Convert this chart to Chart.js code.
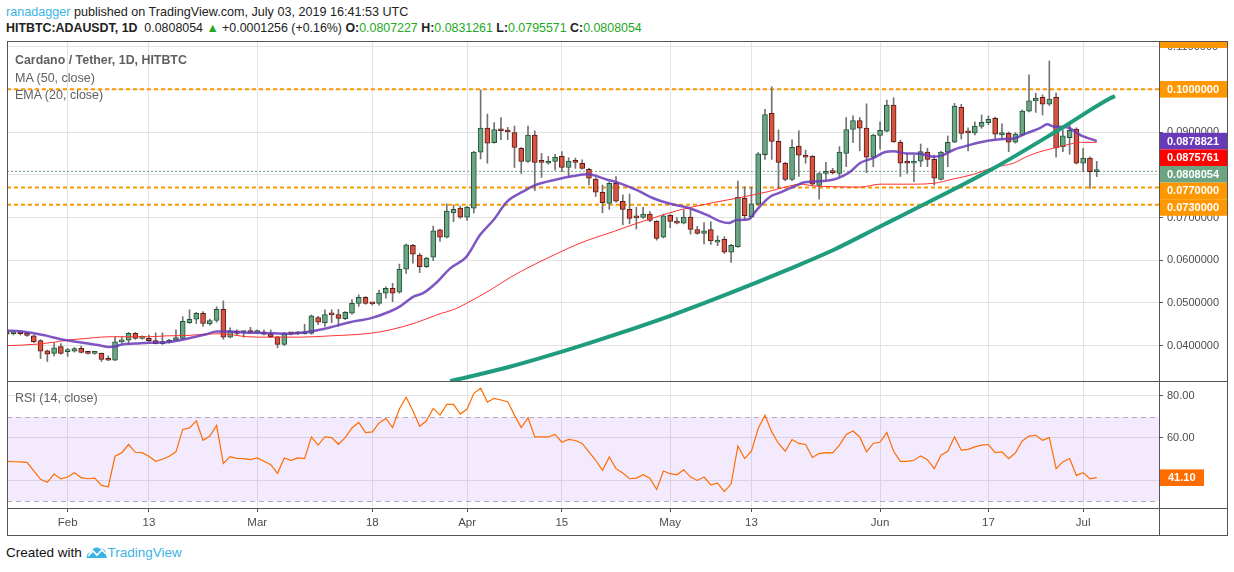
<!DOCTYPE html>
<html>
<head>
<meta charset="utf-8">
<script src="https://cdn.jsdelivr.net/npm/chart.js@4.4.1/dist/chart.umd.min.js"></script>
<style>
  body { margin:0; width:1234px; height:572px; background:#fff; position:relative; overflow:hidden;
         font-family:"Liberation Sans", Arial, sans-serif; }
  canvas { position:absolute; left:0; }
  #precio { top:42px; }
  #rsi { top:381px; }
  .linea { position:absolute; background:#555; z-index:1; }
  .txt { position:absolute; white-space:nowrap; z-index:2; }
  #l1 { left:6px; top:5px; font-size:12.6px; color:#222; }
  #l2 { left:6px; top:21px; font-size:12.4px; color:#222; }
  .azul { color:#3bb3e4; }
  .verde { color:#22a822; }
  .leyenda { left:15px; font-size:12.5px; color:#606060; }
  #pie { left:6px; top:545px; font-size:13.5px; color:#111; }
</style>
</head>
<body>

<div class="txt" id="l1"><span class="azul">ranadagger</span> published on TradingView.com, July 03, 2019 16:41:53 UTC</div>
<div class="txt" id="l2"><b>HITBTC:ADAUSDT, 1D</b>&nbsp; 0.0808054 <span class="verde">&#9650;</span> +0.0001256 (+0.16%) <b>O:</b><span class="verde">0.0807227</span> <b>H:</b><span class="verde">0.0831261</span> <b>L:</b><span class="verde">0.0795571</span> <b>C:</b><span class="verde">0.0808054</span></div>

<canvas id="precio" width="1228" height="339"></canvas>
<canvas id="rsi" width="1228" height="154"></canvas>

<!-- MARCO -->
<div class="linea" style="left:7px;top:41px;width:1221px;height:1px"></div>
<div class="linea" style="left:7px;top:381px;width:1221px;height:1px"></div>
<div class="linea" style="left:7px;top:508px;width:1221px;height:1px"></div>
<div class="linea" style="left:7px;top:535px;width:1221px;height:1px"></div>
<div class="linea" style="left:7px;top:41px;width:1px;height:495px"></div>
<div class="linea" style="left:1159px;top:41px;width:1px;height:495px"></div>
<div class="linea" style="left:1227px;top:41px;width:1px;height:495px"></div>

<div class="txt leyenda" style="top:53px;font-weight:bold;font-size:12.4px">Cardano / Tether, 1D, HITBTC</div>
<div class="txt leyenda" style="top:71px">MA (50, close)</div>
<div class="txt leyenda" style="top:88px">EMA (20, close)</div>
<div class="txt leyenda" style="top:391px">RSI (14, close)</div>

<div class="txt" id="pie">Created with
  <svg width="22" height="14" viewBox="0 0 22 14" style="vertical-align:-2px"><path d="M1 13 C0 9 3 7 5 8 C6 3 11 1 14 4 C17 3 21 6 20 10 L21 13 Z" fill="#3bb3e4"/><path d="M2 11 L7 6 L11 10 L16 5 L20 9" stroke="#fff" stroke-width="1.6" fill="none"/></svg><span class="azul">TradingView</span></div>

<script>
// DATOS (eje x = indice de dia, 0 = 23 ene 2019, 161 = 3 jul 2019)
const fechasIdx = [9, 21, 37, 54, 68, 82, 98, 110, 129, 145, 159]
const fechasTxt = ['Feb', '13', 'Mar', '18', 'Apr', '15', 'May', '13', 'Jun', '17', 'Jul']

const aperturas = [
0.0433,0.0428,0.0430,0.0427,0.0423,0.0412,0.0388,0.0382,0.0398,0.0386,
0.0387,0.0394,0.0383,0.0382,0.0382,0.0368,0.0366,0.0409,0.0413,0.0429,
0.0417,0.0417,0.0412,0.0405,0.0408,0.0413,0.0417,0.0454,0.0462,0.0476,
0.0451,0.0459,0.0485,0.0420,0.0434,0.0431,0.0432,0.0431,0.0431,0.0427,
0.0421,0.0403,0.0429,0.0428,0.0428,0.0429,0.0466,0.0454,0.0473,0.0473,
0.0463,0.0476,0.0499,0.0513,0.0499,0.0499,0.0523,0.0534,0.0525,0.0579,
0.0635,0.0612,0.0585,0.0607,0.0671,0.0654,0.0711,0.0722,0.0701,0.0722,
0.0853,0.0909,0.0875,0.0904,0.0902,0.0899,0.0862,0.0831,0.0893,0.0830,
0.0827,0.0831,0.0843,0.0817,0.0830,0.0827,0.0813,0.0790,0.0759,0.0733,
0.0780,0.0738,0.0719,0.0700,0.0700,0.0708,0.0691,0.0654,0.0705,0.0688,
0.0687,0.0701,0.0672,0.0663,0.0672,0.0642,0.0649,0.0619,0.0632,0.0745,
0.0702,0.0731,0.0847,0.0944,0.0878,0.0827,0.0789,0.0867,0.0846,0.0843,
0.0775,0.0803,0.0806,0.0803,0.0850,0.0906,0.0927,0.0909,0.0841,0.0892,
0.0902,0.0963,0.0876,0.0828,0.0827,0.0832,0.0853,0.0836,0.0789,0.0853,
0.0876,0.0958,0.0899,0.0898,0.0913,0.0922,0.0932,0.0893,0.0897,0.0876,
0.0893,0.0949,0.0973,0.0981,0.0965,0.0981,0.0865,0.0887,0.0907,0.0827,
0.0839,0.0807227]

const maximos = [
0.0435,0.0433,0.0432,0.0429,0.0425,0.0414,0.0390,0.0407,0.0405,0.0394,
0.0396,0.0399,0.0387,0.0387,0.0383,0.0376,0.0421,0.0420,0.0431,0.0431,
0.0423,0.0425,0.0430,0.0430,0.0415,0.0437,0.0468,0.0484,0.0478,0.0480,
0.0462,0.0491,0.0505,0.0442,0.0437,0.0434,0.0443,0.0437,0.0437,0.0437,
0.0422,0.0431,0.0431,0.0433,0.0450,0.0472,0.0469,0.0484,0.0484,0.0485,
0.0480,0.0508,0.0519,0.0515,0.0501,0.0530,0.0538,0.0546,0.0591,0.0638,
0.0637,0.0616,0.0607,0.0680,0.0673,0.0732,0.0730,0.0727,0.0727,0.0855,
0.0998,0.0942,0.0922,0.0934,0.0911,0.0914,0.0864,0.0914,0.0903,0.0850,
0.0843,0.0848,0.0854,0.0840,0.0839,0.0835,0.0815,0.0793,0.0776,0.0783,
0.0796,0.0753,0.0755,0.0724,0.0724,0.0714,0.0693,0.0708,0.0707,0.0700,
0.0718,0.0718,0.0679,0.0688,0.0690,0.0657,0.0655,0.0637,0.0785,0.0772,
0.0771,0.0852,0.0953,0.1006,0.0905,0.0829,0.0882,0.0903,0.0858,0.0845,
0.0805,0.0829,0.0815,0.0866,0.0934,0.0938,0.0934,0.0966,0.0895,0.0924,
0.0975,0.0980,0.0881,0.0850,0.0846,0.0872,0.0862,0.0846,0.0855,0.0891,
0.0967,0.0965,0.0910,0.0924,0.0940,0.0938,0.0935,0.0919,0.0900,0.0899,
0.0952,0.1034,0.0991,0.0987,0.1066,0.0991,0.0905,0.0917,0.0910,0.0862,
0.0842,0.0831261]

const minimos = [
0.0425,0.0425,0.0425,0.0422,0.0407,0.0370,0.0363,0.0376,0.0380,0.0375,
0.0385,0.0383,0.0380,0.0380,0.0363,0.0365,0.0365,0.0406,0.0405,0.0415,
0.0415,0.0410,0.0404,0.0403,0.0406,0.0411,0.0415,0.0452,0.0452,0.0445,
0.0448,0.0455,0.0415,0.0418,0.0426,0.0420,0.0429,0.0429,0.0425,0.0419,
0.0395,0.0400,0.0425,0.0426,0.0427,0.0427,0.0449,0.0445,0.0454,0.0445,
0.0461,0.0474,0.0492,0.0497,0.0495,0.0495,0.0511,0.0503,0.0523,0.0569,
0.0593,0.0571,0.0583,0.0599,0.0644,0.0652,0.0690,0.0698,0.0693,0.0711,
0.0837,0.0827,0.0874,0.0882,0.0882,0.0817,0.0803,0.0829,0.0763,0.0794,
0.0825,0.0811,0.0807,0.0796,0.0815,0.0813,0.0776,0.0749,0.0711,0.0719,
0.0736,0.0683,0.0685,0.0673,0.0698,0.0690,0.0647,0.0652,0.0676,0.0685,
0.0685,0.0661,0.0661,0.0638,0.0637,0.0634,0.0616,0.0595,0.0630,0.0694,
0.0700,0.0729,0.0836,0.0836,0.0768,0.0786,0.0786,0.0796,0.0827,0.0776,
0.0743,0.0788,0.0802,0.0796,0.0819,0.0875,0.0856,0.0805,0.0819,0.0860,
0.0900,0.0876,0.0796,0.0803,0.0784,0.0819,0.0819,0.0776,0.0788,0.0819,
0.0875,0.0884,0.0856,0.0893,0.0909,0.0917,0.0885,0.0887,0.0854,0.0874,
0.0892,0.0947,0.0946,0.0940,0.0962,0.0841,0.0854,0.0848,0.0825,0.0807,
0.0768,0.0795571]

const cierres = [
0.0427,0.0430,0.0428,0.0424,0.0409,0.0387,0.0380,0.0395,0.0382,0.0387,
0.0393,0.0384,0.0382,0.0383,0.0368,0.0366,0.0409,0.0413,0.0429,0.0417,
0.0418,0.0412,0.0405,0.0409,0.0413,0.0419,0.0457,0.0462,0.0476,0.0452,
0.0459,0.0485,0.0420,0.0434,0.0429,0.0432,0.0431,0.0432,0.0427,0.0421,
0.0403,0.0429,0.0428,0.0431,0.0429,0.0470,0.0455,0.0473,0.0472,0.0464,
0.0478,0.0499,0.0513,0.0499,0.0498,0.0523,0.0534,0.0523,0.0579,0.0636,
0.0614,0.0585,0.0605,0.0669,0.0654,0.0715,0.0719,0.0701,0.0724,0.0853,
0.0909,0.0874,0.0906,0.0903,0.0900,0.0864,0.0831,0.0893,0.0829,0.0829,
0.0830,0.0841,0.0817,0.0832,0.0829,0.0815,0.0792,0.0759,0.0735,0.0780,
0.0738,0.0719,0.0698,0.0699,0.0708,0.0693,0.0651,0.0704,0.0691,0.0687,
0.0701,0.0672,0.0663,0.0669,0.0645,0.0647,0.0619,0.0635,0.0747,0.0704,
0.0732,0.0849,0.0941,0.0878,0.0829,0.0789,0.0864,0.0846,0.0841,0.0778,
0.0803,0.0808,0.0805,0.0853,0.0906,0.0927,0.0909,0.0841,0.0893,0.0904,
0.0963,0.0877,0.0827,0.0827,0.0832,0.0854,0.0836,0.0792,0.0853,0.0876,
0.0961,0.0897,0.0898,0.0914,0.0923,0.0930,0.0895,0.0899,0.0876,0.0895,
0.0949,0.0973,0.0979,0.0965,0.0977,0.0863,0.0891,0.0904,0.0827,0.0839,
0.0807,0.0808054]

// EMA 20 (morada) y MA 50 (roja)
const emaX = [0,2,4,6,8,10,12,14,15,16,17,19,21,23.6,25.6,27.6,29.5,31,33,35,
38,41.8,44.8,47.8,50.7,53.7,56.6,58.1,60.1,61.5,63.5,65.5,67.9,69.9,71.9,73.9,76.3,77.8,81.2,83.7,
85.8,88.6,90.6,93.1,95.5,98,100.4,103.4,105.4,106.6,107.8,109.6,110.8,112.8,114.2,116.2,117.7,119.2,121.1,122.6,
124.6,126,128,129.9,130.9,132.9,134.9,136.9,138.3,139.8,142.3,144.7,146.7,148.7,150.6,152.6,153.7,154.6,156.6,158.6,161]
const emaY = [0.0435,0.0434,0.0429,0.0423,0.0415,0.0410,0.0405,0.0400,0.0397,0.0398,0.0403,0.0405,0.0407,0.0408,0.0413,0.0420,0.0427,0.0433,0.0433,0.0431,
0.0430,0.0428,0.0433,0.0443,0.0455,0.0464,0.0480,0.0492,0.0515,0.0523,0.0548,0.0581,0.0608,0.0659,0.0694,0.0737,0.0761,0.0774,0.0789,0.0797,
0.0801,0.0789,0.0780,0.0764,0.0745,0.0732,0.0724,0.0706,0.0691,0.0687,0.0694,0.0696,0.0718,0.0749,0.0758,0.0772,0.0782,0.0784,0.0786,0.0791,
0.0807,0.0827,0.0839,0.0854,0.0855,0.0850,0.0849,0.0842,0.0846,0.0858,0.0870,0.0879,0.0883,0.0885,0.0897,0.0909,0.0918,0.0913,0.0911,0.0893,0.0878821]

const maX = [0,4,6.9,8.9,11.8,13.8,15.8,18.7,21.2,23.6,26.6,29.5,31.5,33.5,35.5,38.4,43.3,47.8,53.7,56.6,
60.5,63.5,66.4,67.9,71.4,74.4,77.3,81.2,84.7,89.6,94.5,99.5,104.4,107.8,110.3,112.3,115.2,117.2,119.2,122.2,
126,129,133.4,136.9,139.8,142.8,145.7,148.7,150.6,152.6,154.6,156.6,158.6,161]
const maY = [0.0400,0.0403,0.0408,0.0413,0.0417,0.0420,0.0421,0.0421,0.0421,0.0423,0.0424,0.0427,0.0428,0.0425,0.0421,0.0420,0.0420,0.0423,0.0429,0.0437,
0.0454,0.0472,0.0487,0.0499,0.0530,0.0560,0.0585,0.0615,0.0640,0.0667,0.0694,0.0718,0.0735,0.0745,0.0753,0.0760,0.0772,0.0778,0.0774,0.0772,
0.0771,0.0778,0.0778,0.0780,0.0790,0.0801,0.0817,0.0827,0.0842,0.0854,0.0862,0.0870,0.0876,0.0875761]

// linea de tendencia verde
const tendX = [65.5,73.9,82.0,90.1,98.0,106.8,115.2,122.1,129.0,132.4,145.3,155.6,163.0,163.7]
const tendY = [0.0317,0.0349,0.0386,0.0427,0.0470,0.0523,0.0577,0.0624,0.0679,0.0706,0.0811,0.0907,0.0979,0.0984]

// niveles horizontales y etiquetas del eje
const niveles = [0.1, 0.077, 0.073]
const ultimoPrecio = 0.0808054
const precioTicks = [0.04, 0.05, 0.06, 0.07, 0.08, 0.09, 0.10, 0.11]
const etiquetasValor = [0.1, 0.0878821, 0.0875761, 0.0808054, 0.077, 0.073]
const etiquetasColor = ['#ff9800', '#673ab7', '#ff0000', '#6ba583', '#ff9800', '#ff9800']

const rsi = [
48.9,48.7,48.6,48.4,44.3,40.3,38.9,42.8,40.6,41.4,
43.5,41.1,40.6,40.9,37.4,36.8,51.3,53.0,56.9,53.2,
53.0,51.3,48.9,49.9,51.3,53.4,64.1,64.8,68.2,58.9,
60.9,66.0,47.9,51.1,50.3,50.2,49.7,50.5,48.9,47.3,
43.2,50.5,49.4,50.5,50.2,60.5,56.6,60.5,60.2,57.0,
60.2,64.8,67.4,62.6,62.9,67.2,69.3,65.0,73.8,79.4,
73.0,65.6,68.2,74.1,70.9,76.0,76.0,71.4,73.8,81.3,
83.7,77.1,78.9,78.1,77.3,70.9,65.0,69.6,60.5,60.5,
60.5,61.7,58.0,59.3,58.8,57.4,53.4,49.4,44.6,51.0,
45.4,43.3,40.6,40.9,42.5,40.9,35.5,44.3,43.0,42.5,
44.9,41.4,39.8,41.4,37.7,38.5,34.5,38.2,56.2,50.2,
53.7,64.5,70.9,62.9,57.4,53.7,59.3,57.4,56.9,50.7,
52.6,53.0,52.9,56.6,61.7,63.3,60.5,53.4,57.4,58.1,
62.6,53.7,48.9,48.9,49.4,51.5,49.7,45.4,51.8,53.7,
60.5,54.2,54.6,55.8,56.6,56.9,53.0,53.4,50.2,52.9,
58.6,60.9,61.3,58.9,60.2,45.4,48.6,50.2,42.2,43.5,
40.6,41.1]
const rsiTicks = [40, 60, 80]
const rsiBanda = [30, 70]

const X_MIN = 0.044
const X_MAX = 170.2
const GRILLA = '#e3e3e3'
const FUENTE = '"Liberation Sans", Arial, sans-serif'

const velas = aperturas.map((o, i) => ({ o, h: maximos[i], l: minimos[i], c: cierres[i] }))
const sube = velas.map(v => v.c >= v.o)

const ejeX = (mostrar) => ({
    type: 'linear', min: X_MIN, max: X_MAX, offset: false,
    grid: { color: GRILLA, offset: false, drawTicks: mostrar, tickLength: 4, tickColor: '#555' },
    border: { display: false },
    ticks: {
        display: mostrar, autoSkip: false, maxRotation: 0, padding: 4,
        color: '#4c4c4c', font: { family: FUENTE, size: 11.5 },
        callback: (v, i) => fechasTxt[i]
    },
    afterBuildTicks: s => { s.ticks = fechasIdx.map(v => ({ value: v })) },
    afterFit: s => { s.height = mostrar ? 27 : 0; s.paddingLeft = 0; s.paddingRight = 0 }
})

const ejeY = (min, max, marcas, decimales) => ({
    position: 'right', min, max, beginAtZero: false,
    grid: { color: GRILLA, tickLength: 4, tickColor: '#555' },
    border: { display: false },
    ticks: { color: '#4c4c4c', padding: 4, font: { family: FUENTE, size: 11 }, callback: v => v.toFixed(decimales) },
    afterBuildTicks: s => { s.ticks = marcas.map(v => ({ value: v })) },
    afterFit: s => { s.width = 69; s.paddingTop = 0; s.paddingBottom = 0 }
})

// ETIQUETAS DE COLOR EN EL EJE DE PRECIO
const cajasPrecio = {
    id: 'cajasPrecio',
    afterDraw: (chart) => {
        const ctx = chart.ctx
        const y = chart.scales.y
        const x0 = chart.chartArea.right + 1
        const alto = 16.6
        ctx.save()
        ctx.font = 'bold 11px ' + FUENTE
        ctx.textBaseline = 'middle'
        // caja recortada arriba (0.11)
        ctx.fillStyle = '#ff9800'
        ctx.fillRect(x0, 0, 68, 6)
        let fin = -99
        etiquetasValor.forEach((v, k) => {
            let cy = y.getPixelForValue(v)
            if (cy - alto / 2 < fin) cy = fin + alto / 2
            fin = cy + alto / 2
            ctx.fillStyle = etiquetasColor[k]
            ctx.fillRect(x0, cy - alto / 2, 68, alto)
            ctx.fillStyle = '#ffffff'
            ctx.fillText(v.toFixed(7), x0 + 7, cy + 0.5)
        })
        ctx.restore()
    }
}

// GRAFICO DE PRECIO
new Chart(document.getElementById('precio'), {
    type: 'bar',
    data: {
        datasets: [
            ...niveles.map(v => ({
                type: 'line', data: [{ x: X_MIN, y: v }, { x: X_MAX, y: v }],
                borderColor: '#ff9800', borderWidth: 2, borderDash: [4, 3], pointRadius: 0, order: 20
            })),
            {
                type: 'line', data: [{ x: X_MIN, y: ultimoPrecio }, { x: X_MAX, y: ultimoPrecio }],
                borderColor: '#6ba583', borderWidth: 1, borderDash: [2, 2], pointRadius: 0, order: 19
            },
            {
                // mechas
                data: velas.map((v, i) => ({ x: i, y: [v.l, v.h] })),
                backgroundColor: '#737375', barThickness: 1, grouped: false, order: 8
            },
            {
                // cuerpos
                data: velas.map((v, i) => ({ x: i, y: [v.o, v.c] })),
                backgroundColor: sube.map(s => s ? '#6ba583' : '#d75442'),
                borderColor: sube.map(s => s ? '#225437' : '#5b1a13'),
                borderWidth: 1, borderSkipped: false, barThickness: 5, minBarLength: 2,
                grouped: false, order: 7
            },
            {
                type: 'line', data: maX.map((x, k) => ({ x, y: maY[k] })),
                borderColor: '#ff3030', borderWidth: 1, pointRadius: 0, cubicInterpolationMode: 'monotone', order: 4
            },
            {
                type: 'line', data: emaX.map((x, k) => ({ x, y: emaY[k] })),
                borderColor: 'rgba(103,58,183,0.85)', borderWidth: 2.5, pointRadius: 0, cubicInterpolationMode: 'monotone', order: 3
            },
            {
                type: 'line', data: tendX.map((x, k) => ({ x, y: tendY[k] })),
                borderColor: '#1f9b7d', borderWidth: 4, pointRadius: 0, cubicInterpolationMode: 'monotone', order: 1
            }
        ]
    },
    options: {
        responsive: false, animation: false,
        layout: { padding: { left: 7, top: 0, right: 0, bottom: 0 }, autoPadding: false },
        plugins: { legend: { display: false }, tooltip: { enabled: false } },
        scales: {
            x: ejeX(false),
            y: ejeY(0.03174, 0.11107, precioTicks, 7)
        }
    },
    plugins: [cajasPrecio]
})

// BANDA RSI Y ETIQUETA
const bandaRsi = {
    id: 'bandaRsi',
    beforeDatasetsDraw: (chart) => {
        const { ctx, chartArea: a } = chart
        const y = chart.scales.y
        const yA = y.getPixelForValue(rsiBanda[1])
        const yB = y.getPixelForValue(rsiBanda[0])
        ctx.save()
        ctx.fillStyle = 'rgba(170, 90, 240, 0.13)'
        ctx.fillRect(a.left, yA, a.right - a.left, yB - yA)
        ctx.strokeStyle = '#b5aabd'
        ctx.lineWidth = 1
        ctx.setLineDash([5, 4])
        ;[yA, yB].forEach(p => {
            ctx.beginPath()
            ctx.moveTo(a.left, Math.round(p) + 0.5)
            ctx.lineTo(a.right, Math.round(p) + 0.5)
            ctx.stroke()
        })
        ctx.restore()
    },
    afterDraw: (chart) => {
        const ctx = chart.ctx
        const y = chart.scales.y
        const ultimo = rsi[rsi.length - 1]
        const cy = y.getPixelForValue(ultimo)
        const x0 = chart.chartArea.right + 1
        ctx.save()
        ctx.fillStyle = '#ff6d00'
        ctx.fillRect(x0, cy - 8.3, 44, 16.6)
        ctx.fillStyle = '#fff'
        ctx.font = 'bold 11px ' + FUENTE
        ctx.textBaseline = 'middle'
        ctx.fillText(ultimo.toFixed(2), x0 + 8, cy + 0.5)
        ctx.restore()
    }
}

// GRAFICO RSI
new Chart(document.getElementById('rsi'), {
    type: 'line',
    data: {
        datasets: [{
            data: rsi.map((v, i) => ({ x: i, y: v })),
            borderColor: '#ff6d00', borderWidth: 1.2, pointRadius: 0, tension: 0
        }]
    },
    options: {
        responsive: false, animation: false,
        layout: { padding: { left: 7, top: 0, right: 0, bottom: 0 }, autoPadding: false },
        plugins: { legend: { display: false }, tooltip: { enabled: false } },
        scales: {
            x: ejeX(true),
            y: ejeY(26.67, 87.14, rsiTicks, 2)
        }
    },
    plugins: [bandaRsi]
})
</script>
</body>
</html>
